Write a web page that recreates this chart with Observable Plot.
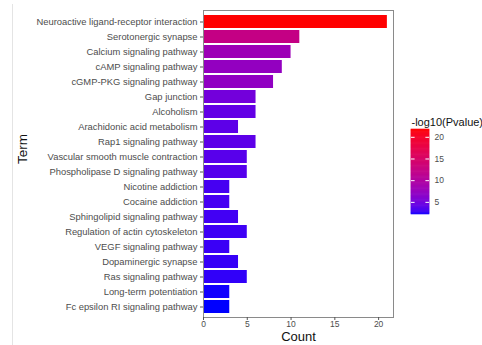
<!DOCTYPE html>
<html>
<head>
<meta charset="utf-8">
<script src="https://cdn.jsdelivr.net/npm/d3@7"></script>
<script src="https://cdn.jsdelivr.net/npm/@observablehq/plot@0.6"></script>
<style>
  html, body { margin: 0; padding: 0; background: #fff; }
  #wrap { position: relative; width: 482px; height: 345px; overflow: hidden; font-family: "Liberation Sans", Arial, sans-serif; }
  #edge { position: absolute; left: 12px; top: 4px; bottom: 0; border-left: 1px solid #e4e4e4; }
  #chart, #legend { position: absolute; }
  #chart { left: 0; top: 0; }
  #legend { left: 405px; top: 112px; }
</style>
</head>
<body>
<div id="wrap"><div id="edge"></div><div id="chart"></div><div id="legend"></div></div>
<script>
// KEGG enrichment terms, top to bottom
const terms = [
  "Neuroactive ligand-receptor interaction",
  "Serotonergic synapse",
  "Calcium signaling pathway",
  "cAMP signaling pathway",
  "cGMP-PKG signaling pathway",
  "Gap junction",
  "Alcoholism",
  "Arachidonic acid metabolism",
  "Rap1 signaling pathway",
  "Vascular smooth muscle contraction",
  "Phospholipase D signaling pathway",
  "Nicotine addiction",
  "Cocaine addiction",
  "Sphingolipid signaling pathway",
  "Regulation of actin cytoskeleton",
  "VEGF signaling pathway",
  "Dopaminergic synapse",
  "Ras signaling pathway",
  "Long-term potentiation",
  "Fc epsilon RI signaling pathway"
];
// gene counts per term
const counts = [21, 11, 10, 9, 8, 6, 6, 4, 6, 5, 5, 3, 3, 4, 5, 3, 4, 5, 3, 3];
// -log10(Pvalue) per term
const logP = [21.8, 12.4, 8.1, 7.3, 7.1, 5.1, 4.3, 4.0, 4.0, 3.8, 3.7, 3.2, 3.2, 3.1, 3.0, 2.9, 2.8, 2.7, 2.3, 2.2];
const xTicks = [0, 5, 10, 15, 20];
const legendTicks = [5, 10, 15, 20];

const rows = terms.map((term, i) => ({term, count: counts[i], logP: logP[i]}));
const pExtent = d3.extent(logP);
const colorScale = {type: "linear", domain: pExtent, range: ["blue", "red"], interpolate: "lab"};

const font = "'Liberation Sans', Arial, sans-serif";

const chart = Plot.plot({
  width: 482,
  height: 345,
  marginLeft: 203,
  marginRight: 89,
  marginTop: 10,
  marginBottom: 28,
  style: {fontFamily: font, background: "transparent"},
  x: {domain: [0, 21.7], ticks: xTicks, label: null},
  y: {domain: terms, paddingInner: 0.15, paddingOuter: 0.175, label: null},
  color: colorScale,
  marks: [
    Plot.barX(rows, {y: "term", x: "count", fill: "logP"}),
    Plot.frame({stroke: "#8a8a8a", strokeWidth: 1}),
    Plot.axisX({ticks: xTicks, tickSize: 3, tickPadding: 0, fontSize: 8.5, color: "#4d4d4d", stroke: "#555", label: null}),
    Plot.axisY({tickSize: 3, tickPadding: 3, fontSize: 9.4, color: "#4d4d4d", stroke: "#555", label: null}),
    Plot.text(["Count"], {frameAnchor: "bottom", dy: 23, fontSize: 13, fill: "#111"}),
    Plot.text(["Term"], {frameAnchor: "left", dx: -181, rotate: -90, fontSize: 13.5, fill: "#111"})
  ]
});
document.getElementById("chart").append(chart);

// vertical colour bar for -log10(Pvalue)
const nSlices = 100;
const slices = d3.range(nSlices).map(i => {
  const a = pExtent[0] + (pExtent[1] - pExtent[0]) * i / nSlices;
  const b = pExtent[0] + (pExtent[1] - pExtent[0]) * (i + 1) / nSlices;
  return {y1: a, y2: b, v: (a + b) / 2};
});

const legend = Plot.plot({
  width: 77,
  height: 108,
  marginLeft: 6,
  marginRight: 53,
  marginTop: 17,
  marginBottom: 6,
  style: {fontFamily: font, background: "transparent", overflow: "visible"},
  x: {domain: [0, 1], axis: null},
  y: {domain: pExtent, axis: null},
  color: colorScale,
  marks: [
    Plot.rect(slices, {x1: 0, x2: 1, y1: "y1", y2: "y2", fill: "v", stroke: "v", strokeWidth: 0.6}),
    Plot.ruleY(legendTicks, {x1: 0, x2: 0.2, stroke: "white", strokeWidth: 1}),
    Plot.ruleY(legendTicks, {x1: 0.8, x2: 1, stroke: "white", strokeWidth: 1}),
    Plot.axisY({ticks: legendTicks, anchor: "right", tickSize: 0, tickPadding: 5, fontSize: 8.5, color: "#4d4d4d", label: null}),
    Plot.text(["-log10(Pvalue)"], {frameAnchor: "top-left", dy: -11, textAnchor: "start", fontSize: 11, fill: "#111"})
  ]
});
document.getElementById("legend").append(legend);
</script>
</body>
</html>
